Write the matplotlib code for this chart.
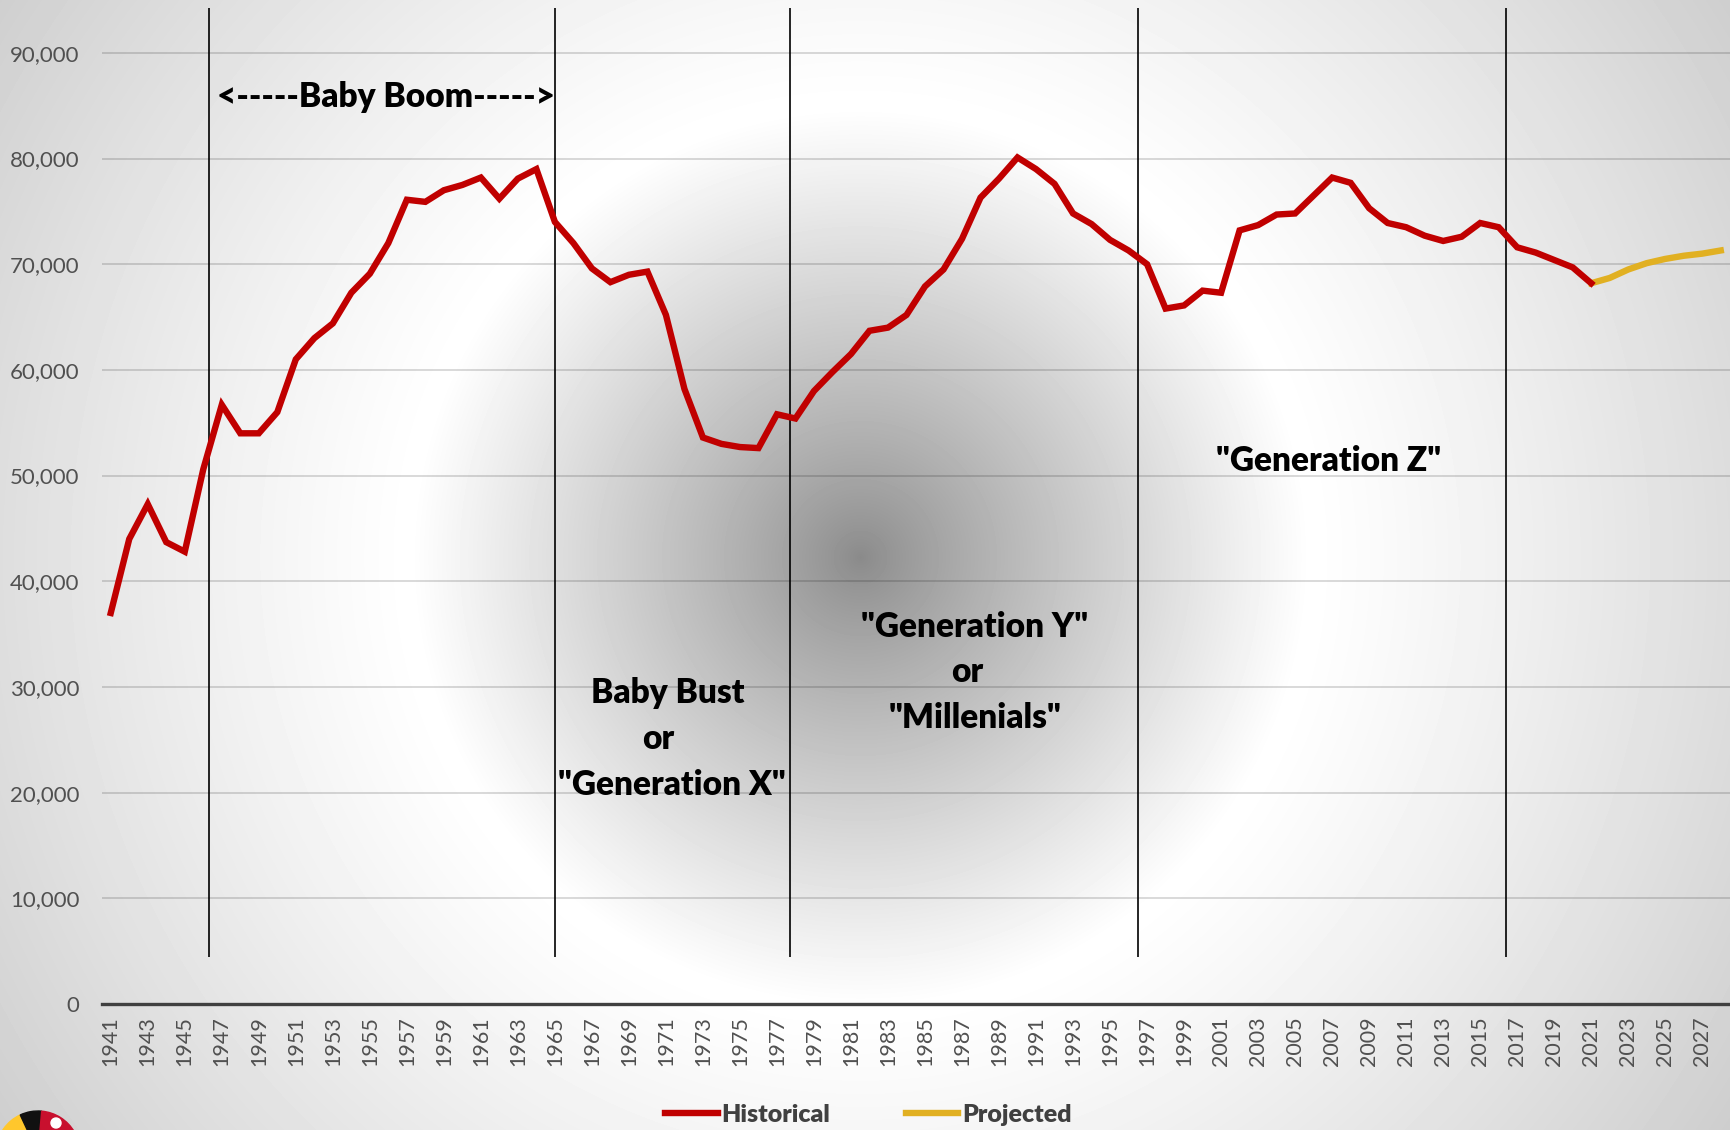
import numpy as np
import matplotlib.pyplot as plt
from matplotlib.patches import Wedge, Circle
from matplotlib.ticker import FuncFormatter

plt.rcParams['font.family'] = ['Lato', 'DejaVu Sans']

# births per year
years_hist = list(range(1941, 2022))
births_hist = [
    37000, 44000, 47300, 43700, 42800, 50600, 56700, 54000, 54000, 56000,
    61000, 63000, 64400, 67300, 69100, 72000, 76100, 75900, 77000, 77500,
    78200, 76200, 78100, 79000, 74000, 72000, 69600, 68300, 69000, 69300,
    65200, 58200, 53600, 53000, 52700, 52600, 55800, 55400, 58000, 59800,
    61500, 63700, 64000, 65200, 67900, 69500, 72400, 76300, 78100, 80100,
    79000, 77600, 74800, 73800, 72300, 71300, 70000, 65800, 66100, 67500,
    67300, 73200, 73700, 74700, 74800, 76500, 78200, 77700, 75300, 73900,
    73500, 72700, 72200, 72600, 73900, 73500, 71600, 71100, 70400, 69700,
    68200,
]
years_proj = list(range(2021, 2029))
births_proj = [68200, 68700, 69500, 70100, 70500, 70800, 71000, 71300]

# generation boundaries (vertical separators)
boundaries = [1946.3, 1965.0, 1977.7, 1996.5, 2016.4]

W, H = 1730, 1130
fig = plt.figure(figsize=(W / 100, H / 100), dpi=100)

# radial gradient background
bg = fig.add_axes([0, 0, 1, 1], zorder=0)
yy, xx = np.mgrid[0:H, 0:W]
r = np.hypot(xx - 860, yy - 557)
r0 = 450.0
v = np.where(r < r0, 0.54 + 0.46 * (r / r0) ** 0.85,
             1.0 - 0.19 * np.clip((r - r0) / (1030 - r0), 0, 1.2) ** 1.1)
bg.imshow(v, cmap='gray', vmin=0, vmax=1, extent=(0, W, H, 0), aspect='auto')
bg.set_xlim(0, W)
bg.set_ylim(H, 0)
bg.axis('off')

# small logo cut off at bottom-left
cx, cy, rad = 38, 1153, 42
bg.add_patch(Wedge((cx, cy), rad, 180, 215, color='#FFC72C', zorder=2))
bg.add_patch(Wedge((cx, cy), rad, 215, 245, color='#FFC72C', zorder=2))
bg.add_patch(Wedge((cx, cy), rad, 245, 275, color='#111111', zorder=2))
bg.add_patch(Wedge((cx, cy), rad, 275, 330, color='#C8102E', zorder=2))
bg.add_patch(Wedge((cx, cy), rad, 195, 210, color='#111111', zorder=3))
bg.add_patch(Circle((cx + 18, cy - 30), 5, color='white', zorder=4))

ax = fig.add_axes([101.5 / W, 126 / H, 1 - 101.5 / W, 1 - 126 / H], zorder=1)
ax.patch.set_alpha(0)

ax.plot(years_hist, births_hist, color='#C00000', lw=4.6, solid_joinstyle='miter',
        label='Historical', zorder=4)
ax.plot(years_proj, births_proj, color='#E1B022', lw=4.6, label='Projected', zorder=3)

ax.vlines(boundaries, 4400, 94200, color='black', lw=1.2, zorder=2)

ax.set_xlim(1940.5, 2028.5)
ax.set_ylim(0, 95000)
ax.set_yticks(range(0, 100000, 10000))
ax.yaxis.set_major_formatter(FuncFormatter(lambda val, _: f'{int(val):,}'))
ax.set_xticks(range(1941, 2028, 2))
ax.tick_params(axis='x', labelrotation=90, length=0, pad=9, labelsize=15.5, labelcolor='#505050')
ax.tick_params(axis='y', length=0, pad=16, labelsize=16, labelcolor='#505050')

for val in range(10000, 100000, 10000):
    ax.axhline(val, color='black', alpha=0.16, lw=1.3, zorder=1)

for s in ['top', 'right', 'left']:
    ax.spines[s].set_visible(False)
ax.spines['bottom'].set_color('#404040')
ax.spines['bottom'].set_linewidth(2.4)

# generation labels
txt = dict(fontsize=24, fontweight='heavy', color='black', ha='center', va='center')
ax.text(1955.9, 85800, '<-----Baby Boom----->', **txt)
ax.text(1971.1, 29400, 'Baby Bust', **txt)
ax.text(1970.6, 25050, 'or', **txt)
ax.text(1971.3, 20700, '"Generation X"', **txt)
ax.text(1987.7, 35700, '"Generation Y"', **txt)
ax.text(1987.3, 31420, 'or', **txt)
ax.text(1987.7, 27100, '"Millenials"', **txt)
ax.text(2006.8, 51360, '"Generation Z"', **txt)

leg = fig.legend(loc='center', bbox_to_anchor=(0.502, 0.0135), ncol=2, frameon=False,
                 handlelength=2.1, handletextpad=0.15, columnspacing=3.0,
                 prop={'size': 18, 'weight': 'heavy'})
for t in leg.get_texts():
    t.set_color('#404040')

fig.savefig('out.png', dpi=100)
